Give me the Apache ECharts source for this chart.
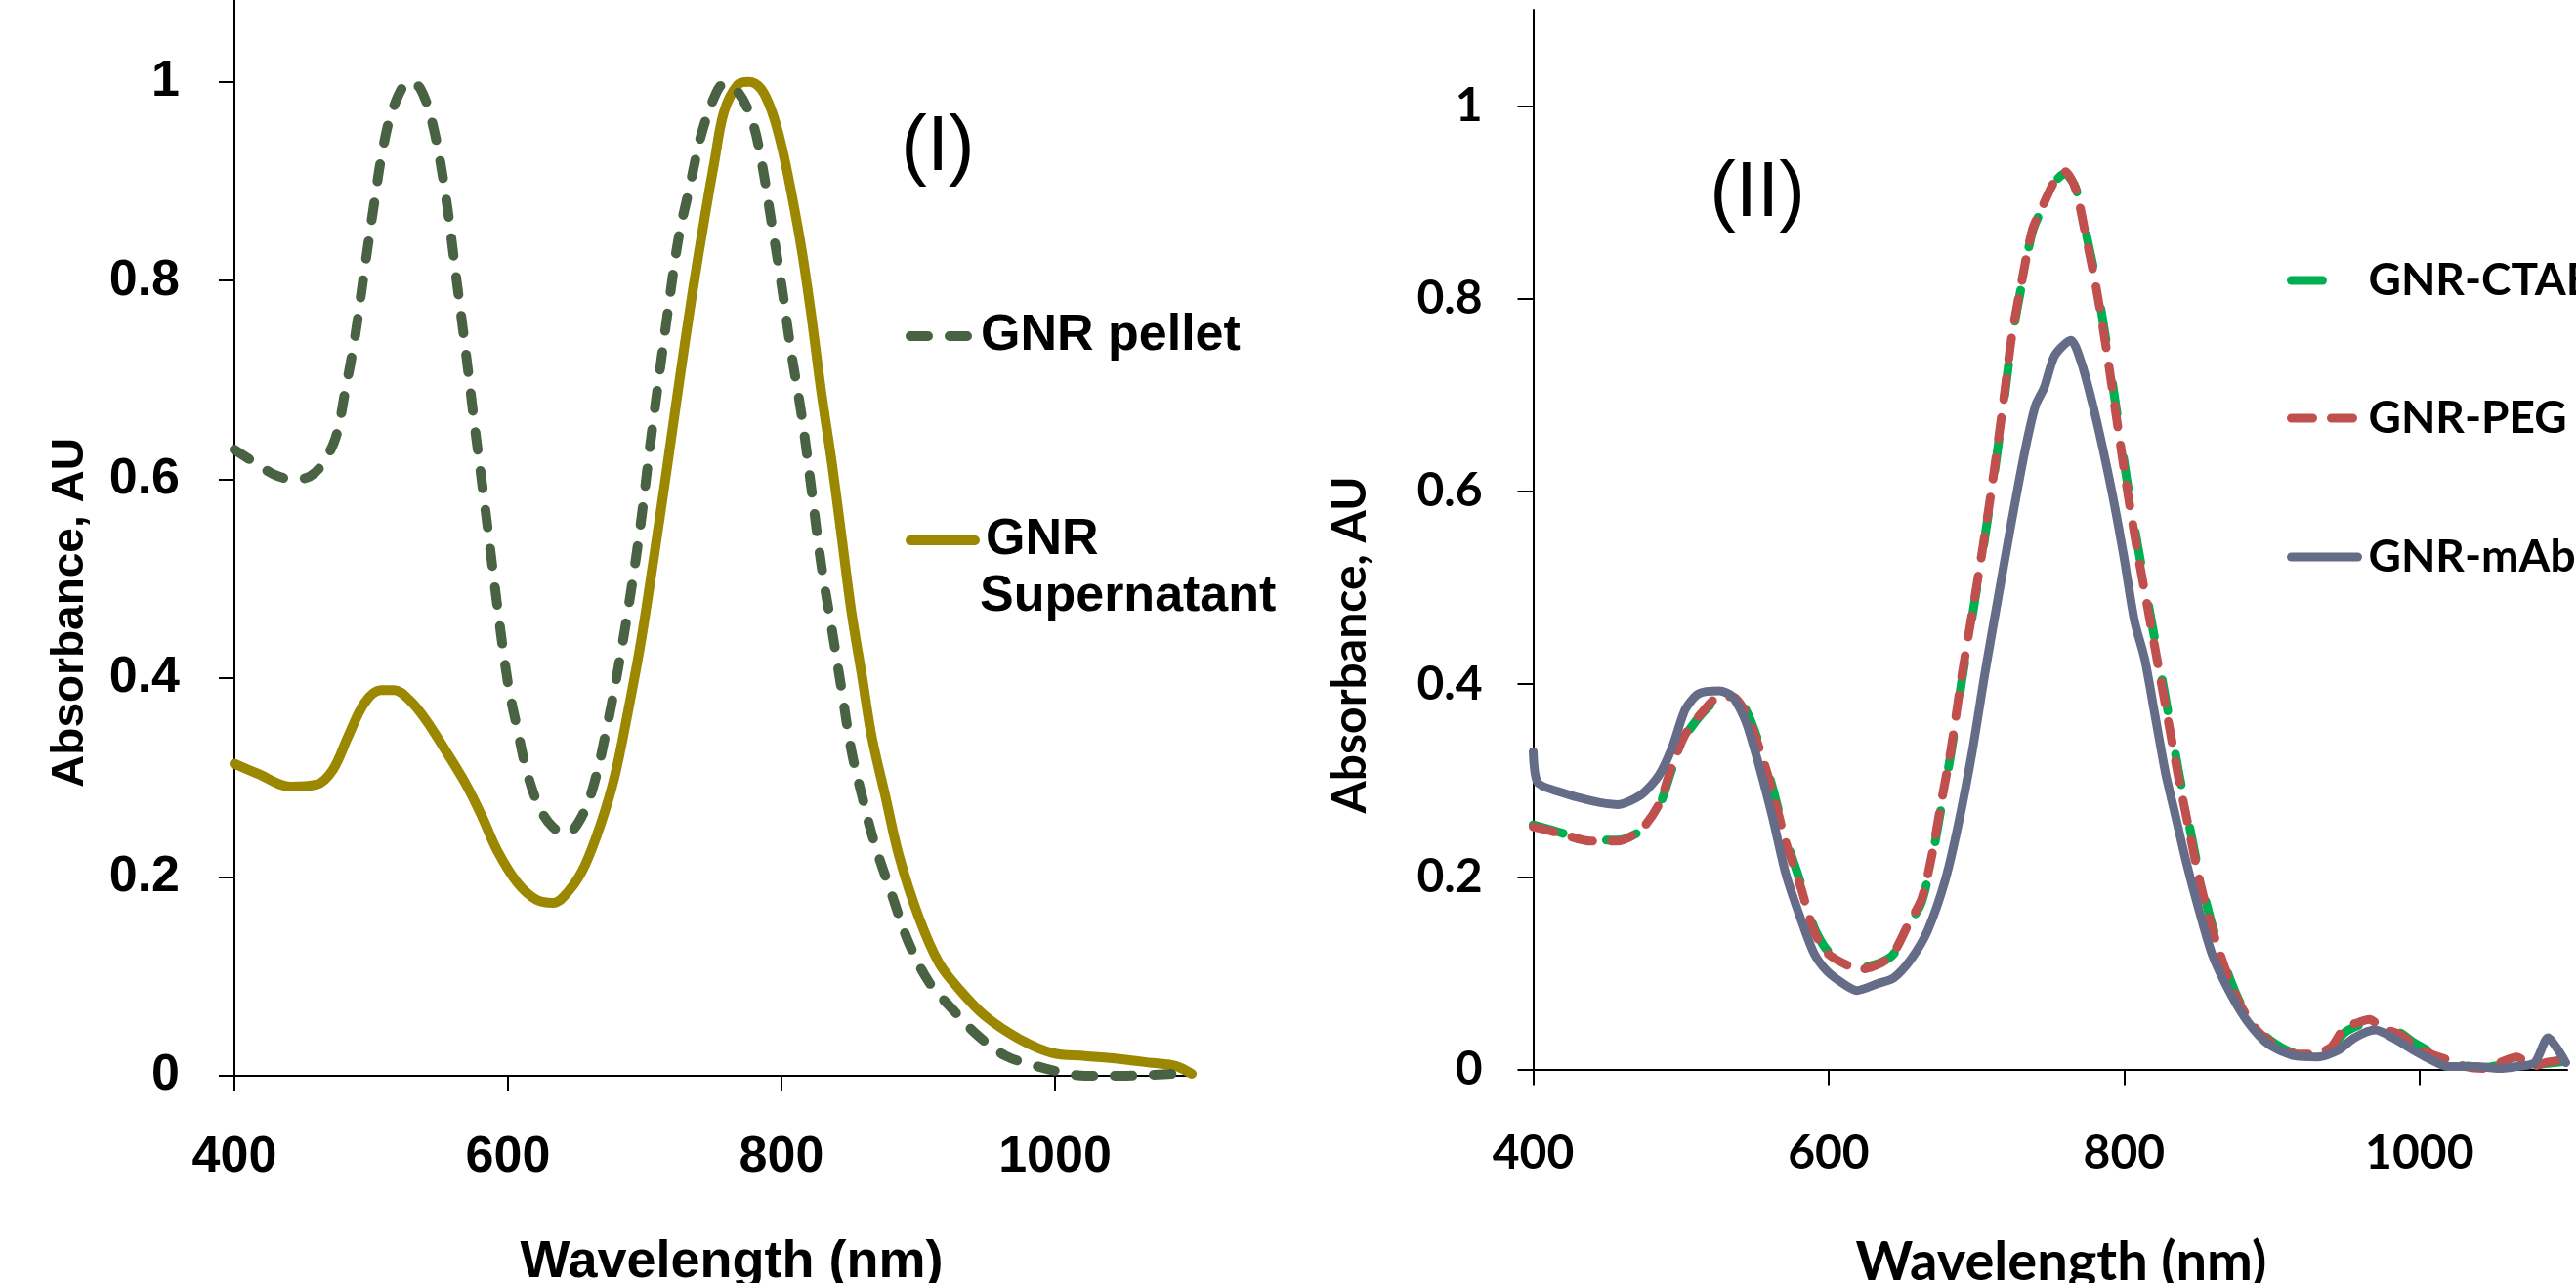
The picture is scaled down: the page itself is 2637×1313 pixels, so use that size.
<!DOCTYPE html>
<html>
<head>
<meta charset="utf-8">
<script src="https://cdn.jsdelivr.net/npm/echarts@6/dist/echarts.min.js"></script>
<style>
html,body{margin:0;padding:0;background:#fff;}
#chart{width:2637px;height:1313px;}
</style>
</head>
<body>
<div id="chart"></div>
<script>
// ---------- Panel (I) ----------
const pelletWl = [400,417,429,443,455,464,474,481,488,495,502,509,517,528,536,545,554,562,569,576,583,592,600,607,614,623,633,643,654,663,673,682,690,697,704,711,718,725,733,741,751,758,768,778,785,793,800,807,815,822,829,837,844,851,859,868,881,893,908,925,944,964,986,1000,1022,1047,1071,1100];
const pelletAbs = [0.63,0.615,0.605,0.600,0.603,0.615,0.642,0.689,0.742,0.810,0.876,0.936,0.977,1.000,0.993,0.957,0.890,0.805,0.730,0.650,0.575,0.475,0.395,0.348,0.305,0.270,0.250,0.244,0.261,0.294,0.355,0.421,0.488,0.555,0.635,0.709,0.780,0.845,0.895,0.945,0.985,0.998,0.990,0.963,0.923,0.856,0.796,0.729,0.662,0.589,0.515,0.448,0.388,0.328,0.281,0.234,0.181,0.134,0.094,0.067,0.040,0.020,0.010,0.005,0.000,0.000,0.001,0.003];

const superWl = [400,417,441,460,472,483,495,507,517,528,540,554,569,581,592,607,621,633,645,656,668,678,687,697,706,716,725,735,744,751,758,768,776,785,793,800,807,815,822,829,837,844,851,859,866,876,886,900,915,930,949,974,998,1022,1047,1071,1088,1100];
const superAbs = [0.314,0.304,0.291,0.293,0.308,0.341,0.375,0.388,0.388,0.378,0.358,0.328,0.294,0.261,0.227,0.194,0.177,0.174,0.187,0.211,0.254,0.301,0.361,0.435,0.515,0.609,0.696,0.789,0.865,0.920,0.970,0.997,1.000,0.993,0.970,0.936,0.890,0.829,0.763,0.689,0.615,0.542,0.468,0.401,0.341,0.281,0.221,0.161,0.114,0.087,0.060,0.037,0.023,0.020,0.017,0.013,0.010,0.002];

// ---------- Panel (II) ----------
const pegWl = [400,416,439,457,473,485,494,503,514,526,535,544,553,562,571,581,590,599,613,622,635,644,654,663,670,676,683,690,697,704,711,718,724,731,738,746,753,760,767,774,781,788,795,802,809,816,823,830,837,844,851,860,870,879,891,902,916,926,940,949,959,966,975,987,996,1008,1019,1031,1043,1059,1066,1076,1085,1097];
const pegAbs = [0.252,0.246,0.237,0.237,0.249,0.275,0.315,0.348,0.370,0.387,0.387,0.370,0.334,0.289,0.236,0.190,0.144,0.121,0.108,0.104,0.110,0.121,0.151,0.177,0.223,0.275,0.334,0.407,0.472,0.538,0.610,0.689,0.761,0.820,0.872,0.900,0.922,0.932,0.915,0.866,0.813,0.748,0.675,0.603,0.538,0.479,0.420,0.361,0.302,0.249,0.197,0.144,0.098,0.066,0.039,0.026,0.016,0.016,0.023,0.043,0.049,0.052,0.043,0.036,0.026,0.016,0.010,0.003,0.001,0.010,0.013,0.003,0.007,0.010];

const ctabWl = [400,416,439,457,473,485,494,503,514,526,535,544,553,562,571,581,590,599,613,622,635,644,654,663,670,676,683,690,697,704,711,718,724,731,738,746,753,760,767,774,781,788,795,802,809,816,823,830,837,844,851,860,870,879,891,902,916,926,940,949,959,966,975,987,996,1008,1019,1031,1043,1059,1066,1076,1085,1097];
const ctabAbs = [0.254,0.247,0.238,0.238,0.248,0.272,0.312,0.346,0.369,0.386,0.388,0.373,0.338,0.293,0.240,0.194,0.148,0.124,0.110,0.106,0.111,0.120,0.149,0.174,0.219,0.270,0.330,0.402,0.468,0.535,0.606,0.685,0.757,0.817,0.870,0.899,0.921,0.930,0.916,0.870,0.819,0.755,0.683,0.611,0.546,0.487,0.428,0.369,0.309,0.255,0.202,0.148,0.101,0.068,0.041,0.027,0.017,0.017,0.022,0.038,0.046,0.048,0.045,0.038,0.028,0.018,0.011,0.004,0.002,0.006,0.012,0.004,0.006,0.008];

const mabWl = [400,403,416,439,457,473,485,494,503,512,526,535,544,553,562,571,581,590,599,610,619,633,644,656,667,679,688,697,706,715,724,733,740,746,753,764,771,778,785,793,800,807,814,821,828,835,842,851,860,872,884,898,916,931,945,956,970,982,996,1008,1019,1038,1054,1066,1078,1087,1094,1099];
const mabAbs = [0.330,0.298,0.289,0.279,0.275,0.285,0.305,0.334,0.374,0.390,0.393,0.387,0.361,0.315,0.262,0.203,0.157,0.121,0.102,0.089,0.082,0.089,0.095,0.115,0.144,0.197,0.256,0.328,0.413,0.492,0.570,0.643,0.689,0.708,0.741,0.757,0.734,0.695,0.649,0.590,0.531,0.466,0.426,0.367,0.308,0.262,0.216,0.164,0.118,0.079,0.049,0.026,0.014,0.013,0.020,0.033,0.041,0.033,0.020,0.010,0.003,0.003,0.001,0.003,0.007,0.033,0.020,0.007];

const xTicks = [400,600,800,1000];
const yTicks = [0,0.2,0.4,0.6,0.8,1];

const zip = (a,b) => a.map((v,i)=>[v,b[i]]);

const FL = 'Liberation Sans';
const FR = 'Lato';

function xAxisCfg(gi, font, size, margin, va){
  return {
    type:'value', gridIndex:gi, min:400, max:1100, interval:100,
    axisLine:{show:true, onZero:false, lineStyle:{color:'#000', width:2}},
    axisTick:{show:true, length:16, lineStyle:{color:'#000', width:2}, customValues:xTicks},
    axisLabel:{show:true, margin:margin, color:'#000', fontFamily:font, fontWeight:'bold', fontSize:size, customValues:xTicks,
      hideOverlap:false, verticalAlign:va, formatter:v=>String(Math.round(+v))},
    splitLine:{show:false}
  };
}
function yAxisCfg(gi, font, size, margin){
  return {
    type:'value', gridIndex:gi, min:0, max:1.1, interval:0.1,
    axisLine:{show:true, lineStyle:{color:'#000', width:2}},
    axisTick:{show:true, length:16, lineStyle:{color:'#000', width:2}, customValues:yTicks},
    axisLabel:{show:true, margin:margin, color:'#000', fontFamily:font, fontWeight:'bold', fontSize:size, customValues:yTicks,
      formatter:v=>String(+(+v).toFixed(1))},
    splitLine:{show:false}
  };
}
function legendCfg(name, left, top, w, ls, font, size, fmt){
  const o = {
    data:[name], left:left, top:top, orient:'vertical', padding:0,
    itemWidth:w, itemHeight:14, selectedMode:false,
    itemStyle:{opacity:0},
    lineStyle:ls,
    textStyle:{fontFamily:font, fontWeight:'bold', fontSize:size, color:'#000', padding:[0,0,0,6]}
  };
  if (fmt) o.formatter = fmt;
  return o;
}

const chart = echarts.init(document.getElementById('chart'), null, {renderer:'canvas'});
chart.setOption({
  animation:false,
  backgroundColor:'#fff',
  grid:[
    {left:240, top:-18, width:980, height:1119, containLabel:false, outerBoundsMode:'none'},
    {left:1569.5, top:10, width:1058.5, height:1084.5, containLabel:false, outerBoundsMode:'none'}
  ],
  xAxis:[ xAxisCfg(0, FL, 52, 58, 'top'), xAxisCfg(1, FR, 48, 110, 'bottom') ],
  yAxis:[ yAxisCfg(0, FL, 52, 56), yAxisCfg(1, FR, 48, 52) ],
  legend:[
    legendCfg('GNR pellet', 927, 318, 61, {width:10, type:[18,22], cap:'round'}, FL, 52),
    legendCfg('GNR Supernatant', 927, 527, 66, {width:10, type:'solid', cap:'round'}, FL, 52, ()=>'GNR'),
    legendCfg('GNR-CTAB', 2341, 264, 68, {width:9, type:[32,45], cap:'round'}, FR, 46),
    legendCfg('GNR-PEG', 2341, 405, 68, {width:9, type:[22,19], cap:'round'}, FR, 46),
    legendCfg('GNR-mAb', 2341, 547, 68, {width:9, type:'solid', cap:'round'}, FR, 46)
  ],
  series:[
    {type:'line', name:'GNR Supernatant', xAxisIndex:0, yAxisIndex:0, data:zip(superWl, superAbs),
     symbol:'none', smooth:0.35, itemStyle:{color:'#9b8800'},
     lineStyle:{color:'#9b8800', width:10, cap:'round', join:'round'}},
    {type:'line', name:'GNR pellet', xAxisIndex:0, yAxisIndex:0, data:zip(pelletWl, pelletAbs),
     symbol:'none', smooth:0.35, itemStyle:{color:'#4a6244'},
     lineStyle:{color:'#4a6244', width:10, type:[18,22], cap:'round', join:'round'}},
    {type:'line', name:'GNR-CTAB', xAxisIndex:1, yAxisIndex:1, data:zip(ctabWl, ctabAbs),
     symbol:'none', smooth:0.25, itemStyle:{color:'#00b050'},
     lineStyle:{color:'#00b050', width:9, type:[32,45], cap:'round', join:'round'}},
    {type:'line', name:'GNR-PEG', xAxisIndex:1, yAxisIndex:1, data:zip(pegWl, pegAbs),
     symbol:'none', smooth:0.25, itemStyle:{color:'#c0504d'},
     lineStyle:{color:'#c0504d', width:9, type:[22,19], cap:'round', join:'round'}},
    {type:'line', name:'GNR-mAb', xAxisIndex:1, yAxisIndex:1, data:zip(mabWl, mabAbs),
     symbol:'none', smooth:0.25, itemStyle:{color:'#646c88'},
     lineStyle:{color:'#646c88', width:9, cap:'round', join:'round'}}
  ],
  graphic:[
    {type:'text', x:960, y:152, style:{text:'(I)', fontFamily:FL, fontSize:80, fill:'#000', align:'center', verticalAlign:'middle'}},
    {type:'text', x:1799, y:199, style:{text:'(II)', fontFamily:FL, fontSize:80, fill:'#000', align:'center', verticalAlign:'middle'}},
    {type:'text', x:1003, y:611, style:{text:'Supernatant', fontFamily:FL, fontWeight:'bold', fontSize:52, fill:'#000', align:'left', verticalAlign:'middle'}},
    {type:'text', x:72, y:627, rotation:Math.PI/2, style:{text:'Absorbance, AU', fontFamily:FL, fontWeight:'bold', fontSize:46, fill:'#000', align:'center', verticalAlign:'middle'}},
    {type:'text', x:749, y:1292, style:{text:'Wavelength (nm)', fontFamily:FL, fontWeight:'bold', fontSize:54, fill:'#000', align:'center', verticalAlign:'middle'}},
    {type:'text', x:1383, y:660, rotation:Math.PI/2, style:{text:'Absorbance, AU', fontFamily:FR, fontWeight:'bold', fontSize:48, fill:'#000', align:'center', verticalAlign:'middle'}},
    {type:'text', x:2110, y:1292, style:{text:'Wavelength (nm)', fontFamily:FR, fontWeight:'bold', fontSize:56, fill:'#000', align:'center', verticalAlign:'middle'}}
  ]
});
</script>
</body>
</html>
